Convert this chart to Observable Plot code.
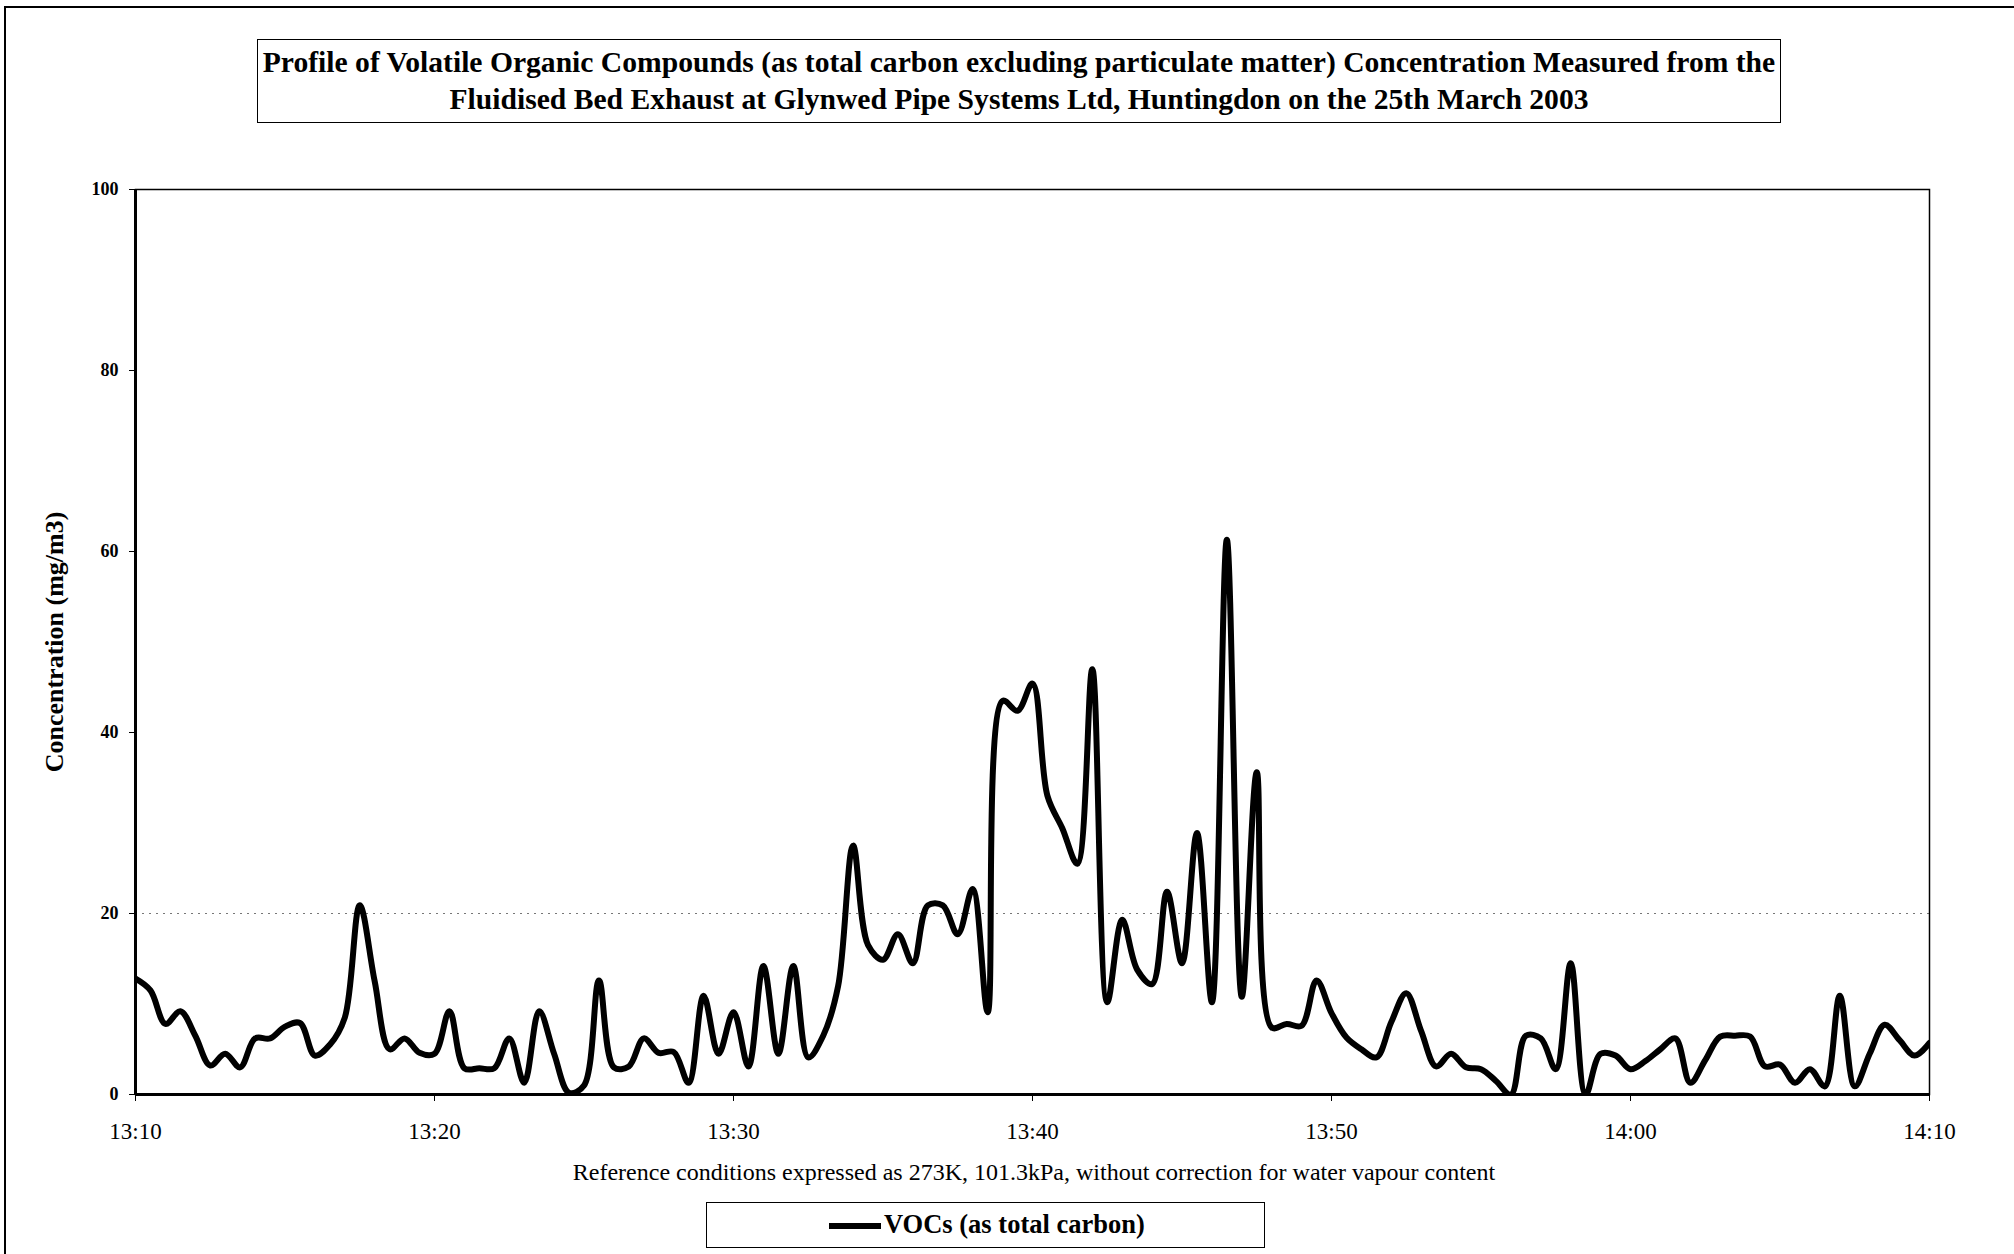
<!DOCTYPE html>
<html>
<head>
<meta charset="utf-8">
<script src="https://cdn.jsdelivr.net/npm/d3@7"></script>
<script src="https://cdn.jsdelivr.net/npm/@observablehq/plot@0.6"></script>
<style>
  html, body { margin: 0; padding: 0; background: #fff; }
  #page { position: relative; width: 2014px; height: 1254px; overflow: hidden;
          font-family: "Liberation Serif", "Times New Roman", serif; color: #000; }
  #border { position: absolute; left: 4px; top: 6px; width: 2030px; height: 1300px; border: 2px solid #000; }
  #title { position: absolute; left: 257px; top: 39px; width: 1524px; height: 84px;
           border: 1.5px solid #000; text-align: center; font-weight: bold; font-size: 29.6px;
           line-height: 37px; padding-top: 4px; box-sizing: border-box; white-space: nowrap; }
  #chart { position: absolute; left: 0; top: 140px; }
  #caption { position: absolute; left: 0; top: 1159px; width: 2068px; text-align: center; font-size: 24px; white-space: nowrap; }
  #legend { position: absolute; left: 706px; top: 1202px; width: 559px; height: 46px;
            border: 1.5px solid #000; box-sizing: border-box; }
  #legend .swatch { position: absolute; left: 122px; top: 20px; width: 52px; height: 6px; background: #000; }
  #legend .label { position: absolute; left: 177px; top: 6px; font-size: 26.5px; font-weight: bold; white-space: nowrap; }
</style>
</head>
<body>
<div id="page">
  <div id="border"></div>
  <div id="title"></div>
  <div id="chart"></div>
  <div id="caption"></div>
  <div id="legend"><div class="swatch"></div><div class="label"></div></div>
</div>
<script>
const titleLines = [
  "Profile of Volatile Organic Compounds (as total carbon excluding particulate matter) Concentration Measured from the",
  "Fluidised Bed Exhaust at Glynwed Pipe Systems Ltd, Huntingdon on the 25th March 2003"
];
const captionText = "Reference conditions expressed as 273K, 101.3kPa, without correction for water vapour content";
const yLabel = "Concentration (mg/m3)";
const seriesName = "VOCs (as total carbon)";
const startTime = "13:10";
const sampleIntervalSeconds = 30;
const xTickLabels = ["13:10", "13:20", "13:30", "13:40", "13:50", "14:00", "14:10"];
const yTicks = [0, 20, 40, 60, 80, 100];
const vocValues = [
  12.8, 11.5, 7.8, 9.2, 6.5, 3.2, 4.5, 3.0, 6.2, 6.2,
  7.5, 7.9, 4.3, 5.5, 8.5, 20.9, 12.5, 5.0, 6.2, 4.6,
  4.5, 9.2, 2.9, 2.9, 2.9, 6.2, 1.3, 9.2, 4.5, 0.2,
  1.0, 12.6, 3.0, 3.1, 6.2, 4.6, 4.7, 1.3, 10.9, 4.5,
  9.1, 3.1, 14.2, 4.5, 14.2, 4.1, 6.5, 12.0, 27.5, 16.5,
  14.9, 17.7, 14.5, 20.9, 20.9, 17.7, 22.7, 9.1, 43.5, 42.4,
  45.4, 33.0, 29.4, 25.5, 47.0, 10.2, 19.3, 13.8, 12.2, 22.4,
  14.5, 28.9, 10.2, 61.3, 10.8, 35.6, 7.4, 7.8, 7.6, 12.6,
  9.0, 6.3, 5.0, 4.1, 8.0, 11.2, 7.0, 3.1, 4.5, 3.0,
  2.8, 1.5, 0.0, 6.5, 6.2, 2.8, 14.5, 0.0, 4.5, 4.3,
  2.8, 3.7, 5.0, 6.2, 1.3, 3.8, 6.4, 6.5, 6.4, 3.1,
  3.3, 1.3, 2.8, 0.9, 10.9, 0.9, 4.5, 7.7, 6.0, 4.3,
  5.7
];

document.getElementById("title").innerHTML = titleLines.map(s => `<div>${s}</div>`).join("");
document.getElementById("caption").textContent = captionText;
document.querySelector("#legend .label").textContent = seriesName;

const parseHM = s => { const [h, m] = s.split(":").map(Number); return new Date(Date.UTC(2003, 2, 25, h, m)); };
const t0 = parseHM(startTime);
const data = vocValues.map((v, i) => ({ time: new Date(t0.getTime() + i * sampleIntervalSeconds * 1000), voc: v }));
const xTicks = xTickLabels.map(parseHM);

const chart = Plot.plot({
  width: 2014,
  height: 1010,
  marginLeft: 135,
  marginRight: 85,
  marginTop: 49,
  marginBottom: 56,
  style: { fontFamily: "'Liberation Serif', 'Times New Roman', serif", background: "transparent", color: "#000" },
  x: { type: "utc", domain: [xTicks[0], xTicks[xTicks.length - 1]] },
  y: { domain: [0, 100] },
  marks: [
    Plot.ruleY([20], { stroke: "#777", strokeWidth: 1, strokeDasharray: "2,5" }),
    Plot.frame({ stroke: "#000", strokeWidth: 1.5 }),
    Plot.ruleY([0], { stroke: "#000", strokeWidth: 3 }),
    Plot.ruleX([xTicks[0]], { stroke: "#000", strokeWidth: 3 }),
    Plot.axisY(yTicks, { tickSize: 6, tickPadding: 11, fontSize: 18, fontWeight: "bold", label: null }),
    Plot.axisY([], { label: yLabel, labelAnchor: "center", labelArrow: "none", labelOffset: 91, fontSize: 26, fontWeight: "bold" }),
    Plot.axisX(xTicks, { tickSize: 7, tickPadding: 21, fontSize: 23, tickFormat: d3.utcFormat("%H:%M"), label: null }),
    Plot.line(data, { x: "time", y: "voc", curve: "catmull-rom", stroke: "#000", strokeWidth: 6, clip: true })
  ]
});
document.getElementById("chart").appendChild(chart);
</script>
</body>
</html>
